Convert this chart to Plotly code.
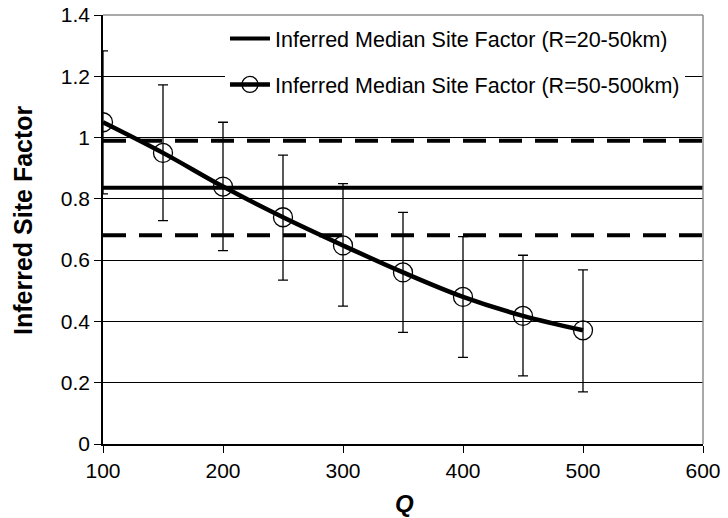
import plotly.graph_objects as go

# Quality factor Q and the inferred median site factor for R = 50-500 km
q_values = [100, 150, 200, 250, 300, 350, 400, 450, 500]
site_factor = [1.05, 0.95, 0.84, 0.74, 0.648, 0.56, 0.48, 0.418, 0.371]
err_plus = [0.233, 0.222, 0.210, 0.203, 0.202, 0.196, 0.197, 0.198, 0.197]
err_minus = [0.234, 0.221, 0.209, 0.205, 0.198, 0.196, 0.197, 0.196, 0.201]

# Median site factor for R = 20-50 km with its +/- one-sigma band
near_x = [100, 600]
near_median = 0.836
near_upper = 0.99
near_lower = 0.681

FONT = "Liberation Sans, Arial, sans-serif"

fig = go.Figure()

fig.add_trace(go.Scatter(
    x=near_x, y=[near_median, near_median], mode="lines",
    line=dict(color="black", width=4),
    name="Inferred Median Site Factor (R=20-50km)",
    legendgroup="a",
))
for level, label in [(near_upper, "upper"), (near_lower, "lower")]:
    fig.add_trace(go.Scatter(
        x=near_x, y=[level, level], mode="lines",
        line=dict(color="black", width=4, dash="23px,13px"),
        name=label, showlegend=False,
    ))

fig.add_trace(go.Scatter(
    x=q_values, y=site_factor, mode="lines+markers",
    line=dict(color="black", width=4.5, shape="spline"),
    marker=dict(symbol="circle-open", size=19, color="black",
                line=dict(color="black", width=1.3)),
    error_y=dict(type="data", symmetric=False, array=err_plus,
                 arrayminus=err_minus, color="black", thickness=1.3, width=5),
    name="Inferred Median Site Factor (R=50-500km)",
    legendgroup="b",
))

fig.update_layout(
    width=728, height=518,
    margin=dict(l=103, r=25, t=15, b=74, autoexpand=False),
    paper_bgcolor="white", plot_bgcolor="white",
    font=dict(family=FONT, color="black", size=21),
    showlegend=True,
    legend=dict(
        x=0.2033, y=0.993, xanchor="left", yanchor="top",
        bgcolor="white", borderwidth=0,
        font=dict(family=FONT, size=21.5, color="black"),
        tracegroupgap=15, itemwidth=40,
    ),
    xaxis=dict(
        range=[100, 600], dtick=100, tick0=100, automargin=False,
        showgrid=False, zeroline=False,
        showline=True, linecolor="black", linewidth=1.5,
        ticks="outside", ticklen=7, tickcolor="black", tickwidth=1,
        tickfont=dict(family=FONT, size=21, color="black"),
    ),
    yaxis=dict(
        range=[0, 1.4], dtick=0.2, tick0=0, automargin=False,
        showgrid=True, gridcolor="black", gridwidth=1,
        zeroline=False,
        showline=True, linecolor="black", linewidth=1.5,
        ticks="outside", ticklen=7, tickcolor="black", tickwidth=1,
        tickfont=dict(family=FONT, size=21, color="black"),
    ),
    shapes=[
        dict(type="line", xref="paper", yref="paper", x0=0, x1=1, y0=1, y1=1,
             line=dict(color="#8c8c8c", width=1.5), layer="above"),
        dict(type="line", xref="paper", yref="paper", x0=1, x1=1, y0=0, y1=1,
             line=dict(color="#8c8c8c", width=1.5), layer="above"),
    ],
    annotations=[
        dict(text="<b>Inferred Site Factor</b>", xref="paper", yref="paper",
             x=-0.1333, y=0.52, textangle=-90, showarrow=False,
             xanchor="center", yanchor="middle",
             font=dict(family=FONT, size=25, color="black")),
        dict(text="<b><i>Q</i></b>", xref="paper", yref="paper",
             x=0.503, y=-0.138, showarrow=False,
             xanchor="center", yanchor="middle",
             font=dict(family=FONT, size=24, color="black")),
    ],
)

fig.write_html("out.html")
